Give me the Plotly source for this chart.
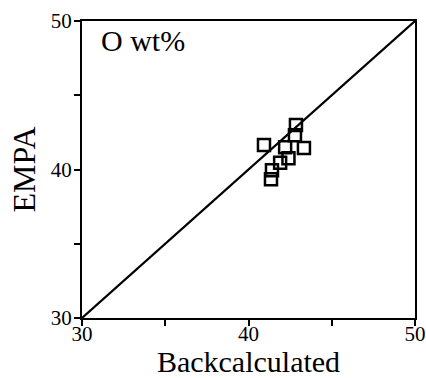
import plotly.graph_objects as go

backcalc = [42.85, 40.93, 42.79, 42.2, 43.33, 42.4, 41.9, 41.41, 41.35]
empa = [43.0, 41.65, 42.3, 41.5, 41.45, 40.75, 40.45, 39.95, 39.35]
line_x = [30, 50]
line_y = [30, 50]
tickvals = [30, 35, 40, 45, 50]
ticktext = ["30", "", "40", "", "50"]

fig = go.Figure()
fig.add_trace(go.Scatter(x=line_x, y=line_y, mode="lines",
                         line=dict(color="black", width=2.2), showlegend=False))
fig.add_trace(go.Scatter(x=backcalc, y=empa, mode="markers",
                         marker=dict(symbol="square-open", size=12, color="black",
                                     line=dict(color="black", width=2.5)),
                         showlegend=False))

axis_common = dict(range=[30, 50], tickvals=tickvals, ticktext=ticktext,
                   ticks="outside", ticklen=6, tickwidth=1.5, tickcolor="black",
                   showline=True, linecolor="black", linewidth=2.2, mirror=True,
                   showgrid=False, zeroline=False, automargin=False,
                   tickfont=dict(family="Liberation Serif", size=21, color="black"))

fig.update_layout(
    width=426, height=378,
    margin=dict(l=82, r=11, t=21, b=60),
    paper_bgcolor="white", plot_bgcolor="white",
    xaxis=dict(**axis_common, ticklabelstandoff=-10,
               title=dict(text="Backcalculated", standoff=7,
                          font=dict(family="Liberation Serif", size=30, color="black"))),
    yaxis=dict(**axis_common, ticklabelstandoff=-2,
               title=dict(text="EMPA", standoff=6,
                          font=dict(family="Liberation Serif", size=32, color="black"))),
    annotations=[dict(text="O wt%", x=0.05, y=0.995, xref="paper", yref="paper",
                      xanchor="left", yanchor="top", showarrow=False,
                      font=dict(family="Liberation Serif", size=30, color="black"))],
)

fig.write_html("out.html")
